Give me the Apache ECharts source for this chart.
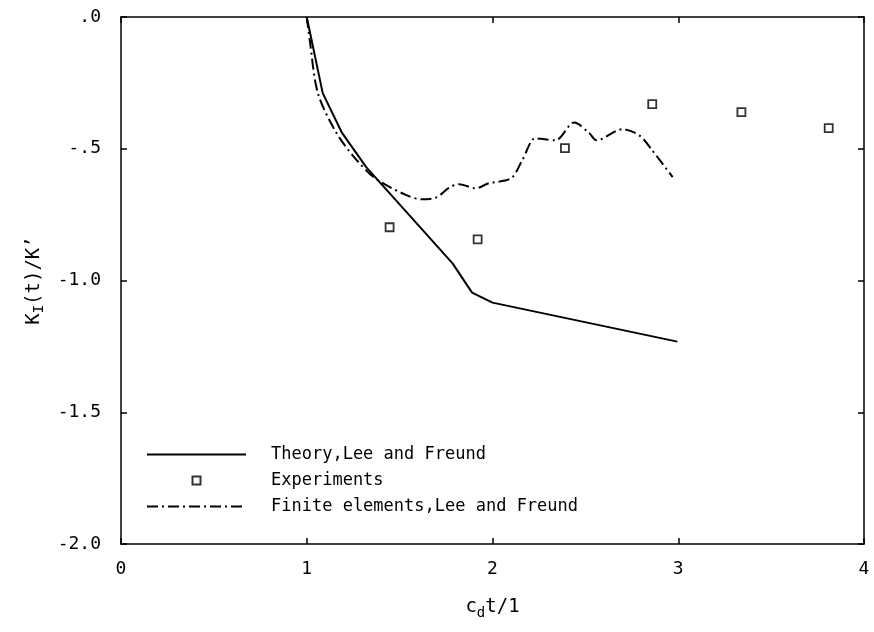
<!DOCTYPE html>
<html>
<head>
<meta charset="utf-8">
<title>KI(t)/K'</title>
<script src="https://cdn.jsdelivr.net/npm/echarts@6/dist/echarts.min.js"></script>
<style>
  html, body { margin: 0; padding: 0; background: #fff; }
  #main { width: 874px; height: 632px; }
</style>
</head>
<body>
<div id="main"></div>
<script>
// theory curve, Lee and Freund  [c_d t / l, K_I(t)/K']
var theory = [
  [1.0, 0.0], [1.086, -0.289], [1.19, -0.44], [1.32, -0.57],
  [1.785, -0.935], [1.89, -1.046], [2.0, -1.084], [2.995, -1.232]
];
// finite element result
var finiteElements = [
  [1.0, 0.0], [1.016, -0.087], [1.06, -0.289], [1.16, -0.44], [1.27, -0.544],
  [1.376, -0.616], [1.54, -0.677], [1.62, -0.692], [1.70, -0.684], [1.77, -0.646],
  [1.82, -0.635], [1.91, -0.65], [1.98, -0.631], [2.10, -0.612], [2.16, -0.544],
  [2.23, -0.46], [2.28, -0.464], [2.34, -0.468], [2.44, -0.40], [2.52, -0.44],
  [2.56, -0.468], [2.70, -0.426], [2.79, -0.449], [2.86, -0.506], [2.97, -0.608]
];
// experiments
var experiments = [
  [1.446, -0.798], [1.92, -0.844], [2.39, -0.498],
  [2.86, -0.331], [3.34, -0.361], [3.81, -0.422]
];
var xTicks = ['0', '1', '2', '3', '4'];
var yTicks = {'0': '.0', '-0.5': '-.5', '-1': '-1.0', '-1.5': '-1.5', '-2': '-2.0'};

var font = 'DejaVu Sans Mono';
var myChart = echarts.init(document.getElementById('main'));

var boxAxis = {
  axisLine: { onZero: false, lineStyle: { color: '#000', width: 1.5 } },
  axisTick: { inside: true, length: 6, lineStyle: { color: '#000', width: 1.5 } },
  splitLine: { show: false }
};

option = {
  backgroundColor: '#fff',
  animation: false,
  textStyle: { fontFamily: font, color: '#000' },
  grid: { left: 121, right: 10, top: 17, bottom: 88 },
  legend: {
    orient: 'vertical',
    left: 141,
    top: 441,
    itemWidth: 99,
    itemHeight: 8,
    itemGap: 9,
    textStyle: { fontFamily: font, fontSize: 17, color: '#000', padding: [0, 0, 0, 20] },
    data: [
      { name: 'Theory,Lee and Freund', itemStyle: { opacity: 0 } },
      { name: 'Experiments', icon: 'path://M0,0H10V10H0Z' },
      { name: 'Finite elements,Lee and Freund', itemStyle: { opacity: 0 } }
    ]
  },
  xAxis: [
    Object.assign({
      type: 'value', min: 0, max: 4, interval: 1,
      name: '{m|c}{s|d}{m|t/1}',
      nameLocation: 'middle',
      nameGap: 50,
      nameTextStyle: {
        rich: {
          m: { fontFamily: font, fontSize: 19, color: '#000' },
          s: { fontFamily: font, fontSize: 14, color: '#000', padding: [12, 0, 0, 0] }
        }
      },
      axisLabel: {
        margin: 16, fontFamily: font, fontSize: 18, color: '#000',
        formatter: function (v) { return xTicks[Math.round(v)]; }
      }
    }, boxAxis),
    Object.assign({
      type: 'value', min: 0, max: 4, interval: 1, position: 'top',
      axisLabel: { show: false }
    }, boxAxis)
  ],
  yAxis: [
    Object.assign({
      type: 'value', min: -2, max: 0, interval: 0.5,
      name: '{m|K}{s|I}{m|(t)/K\u2019}',
      nameLocation: 'middle',
      nameRotate: 90,
      nameGap: 74,
      nameTextStyle: {
        rich: {
          m: { fontFamily: font, fontSize: 19, color: '#000' },
          s: { fontFamily: font, fontSize: 14, color: '#000', padding: [12, 0, 0, 0] }
        }
      },
      axisLabel: {
        margin: 20, fontFamily: font, fontSize: 18, color: '#000',
        formatter: function (v) { return yTicks[String(v)]; }
      }
    }, boxAxis),
    Object.assign({
      type: 'value', min: -2, max: 0, interval: 0.5, position: 'right',
      axisLabel: { show: false }
    }, boxAxis)
  ],
  series: [
    {
      name: 'Theory,Lee and Freund',
      type: 'line',
      data: theory,
      symbol: 'none',
      lineStyle: { color: '#000', width: 2 },
      itemStyle: { color: '#000' }
    },
    {
      name: 'Experiments',
      type: 'scatter',
      data: experiments,
      symbol: 'rect',
      symbolSize: 8,
      itemStyle: { color: '#fff', borderColor: '#000', borderWidth: 1.8 }
    },
    {
      name: 'Finite elements,Lee and Freund',
      type: 'line',
      data: finiteElements,
      symbol: 'none',
      smooth: 0.3,
      lineStyle: { color: '#000', width: 2, type: [11, 4, 2, 4] },
      itemStyle: { color: '#000' }
    }
  ]
};

myChart.setOption(option);
</script>
</body>
</html>
